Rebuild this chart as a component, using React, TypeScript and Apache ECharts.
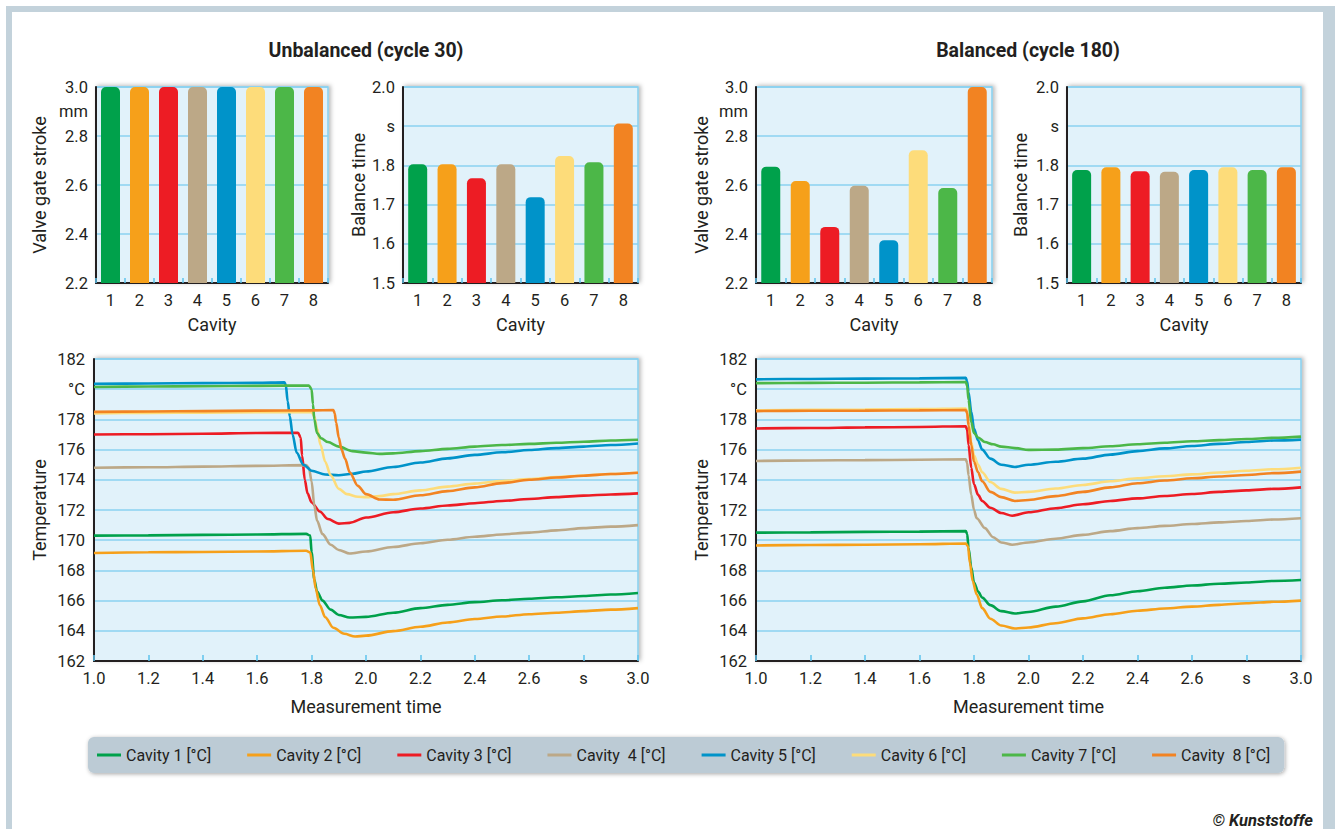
import React, { useEffect, useRef } from 'react';
import * as echarts from 'echarts';

// ---------- categories & labels ----------
const cavities = ['1', '2', '3', '4', '5', '6', '7', '8'];
const cavityColors = ['#00a14b', '#f6a01a', '#ed1c24', '#bca887', '#0093c9', '#fddc7a', '#4cb748', '#f28322'];
const legendNames = ['Cavity 1 [°C]', 'Cavity 2 [°C]', 'Cavity 3 [°C]', 'Cavity  4 [°C]', 'Cavity 5 [°C]', 'Cavity 6 [°C]', 'Cavity 7 [°C]', 'Cavity  8 [°C]'];
const titleUnbalanced = 'Unbalanced (cycle 30)';
const titleBalanced = 'Balanced (cycle 180)';

// ---------- bar values ----------
const unbalancedStroke = [3.0, 3.0, 3.0, 3.0, 3.0, 3.0, 3.0, 3.0];
const unbalancedBalanceTime = [1.803, 1.803, 1.767, 1.803, 1.719, 1.824, 1.808, 1.907];
const balancedStroke = [2.675, 2.616, 2.429, 2.597, 2.375, 2.742, 2.588, 3.0];
const balancedBalanceTime = [1.788, 1.795, 1.785, 1.784, 1.788, 1.795, 1.788, 1.795];

// ---------- temperature curves, unbalanced (cycle 30): [time s, °C] ----------
const ubCavity1 = [[1.0,170.3],[1.2,170.32],[1.4,170.35],[1.6,170.38],[1.78,170.42],[1.795,170.3],[1.8,169.2],[1.81,167.4],[1.82,166.6],[1.84,166.0],[1.87,165.4],[1.9,165.05],[1.94,164.88],[2.0,164.92],[2.1,165.2],[2.2,165.5],[2.3,165.72],[2.4,165.9],[2.5,166.02],[2.6,166.12],[2.7,166.22],[2.8,166.3],[2.9,166.4],[3.0,166.5]];
const ubCavity2 = [[1.0,169.15],[1.2,169.2],[1.4,169.22],[1.6,169.25],[1.78,169.3],[1.795,169.2],[1.805,168.0],[1.815,166.8],[1.83,165.7],[1.85,164.9],[1.88,164.2],[1.92,163.8],[1.96,163.62],[2.0,163.68],[2.1,163.98],[2.2,164.27],[2.3,164.55],[2.4,164.78],[2.5,164.95],[2.6,165.1],[2.7,165.2],[2.8,165.3],[2.9,165.4],[3.0,165.5]];
const ubCavity3 = [[1.0,177.0],[1.2,177.02],[1.4,177.05],[1.6,177.1],[1.75,177.12],[1.76,176.8],[1.765,175.6],[1.775,174.0],[1.785,173.1],[1.8,172.5],[1.83,171.9],[1.86,171.4],[1.9,171.1],[1.94,171.15],[2.0,171.5],[2.1,171.85],[2.2,172.1],[2.3,172.3],[2.4,172.45],[2.5,172.6],[2.6,172.73],[2.7,172.85],[2.8,172.95],[2.9,173.03],[3.0,173.1]];
const ubCavity4 = [[1.0,174.8],[1.2,174.83],[1.4,174.87],[1.6,174.92],[1.78,174.97],[1.79,174.8],[1.8,173.9],[1.81,172.3],[1.82,171.3],[1.84,170.4],[1.87,169.7],[1.9,169.35],[1.94,169.12],[2.0,169.25],[2.1,169.55],[2.2,169.8],[2.3,170.03],[2.4,170.23],[2.5,170.38],[2.6,170.5],[2.7,170.65],[2.8,170.8],[2.9,170.9],[3.0,171.0]];
const ubCavity5 = [[1.0,180.35],[1.2,180.38],[1.4,180.4],[1.6,180.42],[1.7,180.45],[1.705,180.3],[1.712,179.2],[1.72,178.2],[1.73,177.0],[1.745,175.8],[1.77,175.0],[1.8,174.6],[1.85,174.35],[1.9,174.3],[1.95,174.4],[2.0,174.55],[2.1,174.85],[2.2,175.15],[2.3,175.42],[2.4,175.65],[2.5,175.82],[2.6,175.97],[2.7,176.1],[2.8,176.2],[2.9,176.3],[3.0,176.4]];
const ubCavity6 = [[1.0,178.4],[1.2,178.43],[1.4,178.45],[1.6,178.47],[1.8,178.5],[1.81,178.2],[1.82,177.4],[1.833,176.3],[1.85,175.2],[1.87,174.3],[1.9,173.4],[1.93,173.05],[1.97,172.88],[2.0,172.85],[2.05,172.92],[2.1,173.05],[2.2,173.3],[2.3,173.55],[2.4,173.75],[2.5,173.92],[2.6,174.05],[2.7,174.18],[2.8,174.28],[2.9,174.38],[3.0,174.47]];
const ubCavity7 = [[1.0,180.15],[1.2,180.18],[1.4,180.2],[1.6,180.22],[1.79,180.25],[1.8,180.0],[1.805,179.0],[1.81,178.0],[1.82,177.1],[1.835,176.75],[1.86,176.5],[1.9,176.2],[1.95,175.9],[2.0,175.8],[2.05,175.72],[2.1,175.75],[2.2,175.9],[2.3,176.05],[2.4,176.2],[2.5,176.3],[2.6,176.38],[2.7,176.45],[2.8,176.52],[2.9,176.6],[3.0,176.65]];
const ubCavity8 = [[1.0,178.5],[1.2,178.52],[1.4,178.55],[1.6,178.58],[1.8,178.6],[1.88,178.62],[1.885,178.4],[1.89,177.8],[1.9,176.8],[1.91,176.0],[1.923,175.4],[1.94,174.5],[1.97,173.6],[2.0,173.05],[2.05,172.7],[2.1,172.68],[2.2,172.98],[2.3,173.25],[2.4,173.5],[2.5,173.78],[2.6,174.0],[2.7,174.15],[2.8,174.27],[2.9,174.38],[3.0,174.47]];

// ---------- temperature curves, balanced (cycle 180): [time s, °C] ----------
const bCavity1 = [[1.0,170.5],[1.2,170.52],[1.4,170.55],[1.6,170.57],[1.77,170.6],[1.775,170.4],[1.78,169.5],[1.79,168.2],[1.8,167.2],[1.815,166.6],[1.83,166.2],[1.86,165.7],[1.9,165.3],[1.95,165.15],[2.0,165.25],[2.1,165.6],[2.2,165.95],[2.3,166.35],[2.4,166.62],[2.5,166.85],[2.6,167.0],[2.7,167.12],[2.8,167.2],[2.9,167.3],[3.0,167.36]];
const bCavity2 = [[1.0,169.65],[1.2,169.68],[1.4,169.7],[1.6,169.73],[1.77,169.78],[1.778,169.6],[1.785,168.5],[1.795,167.3],[1.81,166.4],[1.83,165.5],[1.86,164.8],[1.9,164.35],[1.95,164.15],[2.0,164.22],[2.1,164.5],[2.2,164.82],[2.3,165.1],[2.4,165.33],[2.5,165.48],[2.6,165.6],[2.7,165.72],[2.8,165.82],[2.9,165.92],[3.0,166.0]];
const bCavity3 = [[1.0,177.4],[1.2,177.43],[1.4,177.47],[1.6,177.5],[1.77,177.55],[1.775,177.3],[1.78,176.3],[1.79,174.8],[1.8,173.7],[1.815,173.0],[1.83,172.6],[1.86,172.15],[1.9,171.8],[1.94,171.62],[2.0,171.85],[2.1,172.12],[2.2,172.38],[2.3,172.6],[2.4,172.77],[2.5,172.93],[2.6,173.06],[2.7,173.2],[2.8,173.3],[2.9,173.4],[3.0,173.5]];
const bCavity4 = [[1.0,175.25],[1.2,175.28],[1.4,175.3],[1.6,175.33],[1.77,175.35],[1.775,175.1],[1.78,174.3],[1.79,173.0],[1.8,172.0],[1.81,171.45],[1.84,170.8],[1.87,170.2],[1.9,169.85],[1.94,169.7],[2.0,169.85],[2.1,170.1],[2.2,170.35],[2.3,170.6],[2.4,170.8],[2.5,170.95],[2.6,171.07],[2.7,171.18],[2.8,171.27],[2.9,171.37],[3.0,171.45]];
const bCavity5 = [[1.0,180.65],[1.2,180.68],[1.4,180.7],[1.6,180.72],[1.77,180.75],[1.775,180.5],[1.78,179.8],[1.79,178.5],[1.8,177.4],[1.815,176.6],[1.83,176.0],[1.86,175.4],[1.9,175.0],[1.95,174.85],[2.0,175.0],[2.1,175.2],[2.2,175.4],[2.3,175.67],[2.4,175.9],[2.5,176.08],[2.6,176.24],[2.7,176.38],[2.8,176.5],[2.9,176.6],[3.0,176.66]];
const bCavity6 = [[1.0,178.6],[1.2,178.63],[1.4,178.65],[1.6,178.68],[1.77,178.72],[1.775,178.5],[1.78,177.8],[1.79,176.5],[1.8,175.6],[1.815,175.0],[1.83,174.5],[1.86,173.85],[1.9,173.4],[1.95,173.15],[2.0,173.2],[2.1,173.42],[2.2,173.66],[2.3,173.9],[2.4,174.1],[2.5,174.24],[2.6,174.36],[2.7,174.48],[2.8,174.6],[2.9,174.7],[3.0,174.8]];
const bCavity7 = [[1.0,180.4],[1.2,180.42],[1.4,180.43],[1.6,180.45],[1.77,180.48],[1.775,180.2],[1.78,179.3],[1.79,177.8],[1.8,177.1],[1.815,176.8],[1.84,176.5],[1.87,176.35],[1.9,176.2],[1.95,176.1],[2.0,175.98],[2.1,176.0],[2.2,176.1],[2.3,176.22],[2.4,176.35],[2.5,176.45],[2.6,176.55],[2.7,176.63],[2.8,176.7],[2.9,176.78],[3.0,176.86]];
const bCavity8 = [[1.0,178.55],[1.2,178.57],[1.4,178.58],[1.6,178.6],[1.77,178.62],[1.775,178.4],[1.78,177.6],[1.79,176.3],[1.8,175.2],[1.815,174.5],[1.83,173.9],[1.86,173.2],[1.9,172.85],[1.95,172.6],[2.0,172.66],[2.1,172.92],[2.2,173.2],[2.3,173.5],[2.4,173.77],[2.5,173.95],[2.6,174.1],[2.7,174.22],[2.8,174.32],[2.9,174.44],[3.0,174.54]];

const ubTemps = [ubCavity1, ubCavity2, ubCavity3, ubCavity4, ubCavity5, ubCavity6, ubCavity7, ubCavity8];
const bTemps = [bCavity1, bCavity2, bCavity3, bCavity4, bCavity5, bCavity6, bCavity7, bCavity8];

// ---------- styling ----------
const FONT = 'Roboto, "Noto Sans", sans-serif';
const INK = '#231f20';
const GRID_LINE = '#8ad2f0';
const TICK = '#5ec3ec';

const gridBox = (left: number, top: number, width: number, height: number) => ({
  left, top, width, height, show: true,
  backgroundColor: '#e1f2fa', borderColor: '#86cfee', borderWidth: 1.5,
  shadowColor: 'rgba(0,0,0,0.28)', shadowBlur: 4, shadowOffsetX: 2, shadowOffsetY: -1,
});

const r1 = (v: number) => Math.round(v * 10) / 10;

const strokeFmt = (v: number) => {
  const r = r1(v);
  if (r === 2.9) return 'mm';
  if (r === 2.3 || r === 2.5 || r === 2.7) return '';
  return r.toFixed(1);
};
const balanceFmt = (v: number) => { const r = r1(v); return r === 1.9 ? 's' : r.toFixed(1); };
const tempFmt = (v: number) => (Math.round(v) === 180 ? '°C' : String(Math.round(v)));
const timeFmt = (v: number) => { const r = r1(v); return r === 2.8 ? 's' : r.toFixed(1); };

const axisLineInk = { show: true, onZero: false, lineStyle: { color: INK, width: 2 } };
const LABEL = { fontSize: 16.5, color: INK, fontFamily: FONT };
const NAME = { fontSize: 18, color: INK, fontFamily: FONT };

const catAxis = (gridIndex: number) => ({
  gridIndex, type: 'category', data: cavities,
  axisLine: axisLineInk,
  axisTick: { show: true, inside: true, length: 5, lineStyle: { color: TICK, width: 1.5 } },
  axisLabel: { ...LABEL, margin: 9 },
  name: 'Cavity', nameLocation: 'middle', nameGap: 32,
  nameTextStyle: NAME,
});

const strokeAxis = (gridIndex: number, nameGap: number) => ({
  gridIndex, type: 'value', min: 2.2, max: 3.0, interval: 0.1,
  axisLine: axisLineInk, axisTick: { show: false },
  axisLabel: { ...LABEL, margin: 8, formatter: strokeFmt },
  splitLine: { show: true, lineStyle: { color: [GRID_LINE, 'rgba(0,0,0,0)'], width: 1.5 } },
  name: 'Valve gate stroke', nameLocation: 'middle', nameGap,
  nameTextStyle: NAME,
});

const balanceAxis = (gridIndex: number, nameGap: number) => ({
  gridIndex, type: 'value', min: 1.5, max: 2.0, interval: 0.1,
  axisLine: axisLineInk, axisTick: { show: false },
  axisLabel: { ...LABEL, margin: 8, formatter: balanceFmt },
  splitLine: { show: true, lineStyle: { color: GRID_LINE, width: 1.5 } },
  name: 'Balance time', nameLocation: 'middle', nameGap,
  nameTextStyle: NAME,
});

const timeAxis = (gridIndex: number) => ({
  gridIndex, type: 'value', min: 1.0, max: 3.0, interval: 0.2,
  axisLine: axisLineInk,
  axisTick: { show: true, inside: true, length: 6, lineStyle: { color: TICK, width: 1.5 } },
  axisLabel: { ...LABEL, margin: 9, formatter: timeFmt },
  splitLine: { show: false },
  name: 'Measurement time', nameLocation: 'middle', nameGap: 36,
  nameTextStyle: NAME,
});

const tempAxis = (gridIndex: number, nameGap: number) => ({
  gridIndex, type: 'value', min: 162, max: 182, interval: 2,
  axisLine: axisLineInk, axisTick: { show: false },
  axisLabel: { ...LABEL, margin: 9, formatter: tempFmt },
  splitLine: { show: true, lineStyle: { color: GRID_LINE, width: 1.5 } },
  name: 'Temperature', nameLocation: 'middle', nameGap,
  nameTextStyle: NAME,
});

const barSeries = (axisIndex: number, values: number[]) => ({
  type: 'bar', xAxisIndex: axisIndex, yAxisIndex: axisIndex, barWidth: 19, silent: true,
  data: values.map((v, i) => ({ value: v, itemStyle: { color: cavityColors[i], borderRadius: [5, 5, 0, 0] } })),
});

const lineSeries = (axisIndex: number, data: number[][], i: number) => ({
  type: 'line', name: legendNames[i], xAxisIndex: axisIndex, yAxisIndex: axisIndex,
  data, showSymbol: false, symbol: 'none', smooth: 0.3, smoothMonotone: 'x', silent: true,
  color: cavityColors[i],
  lineStyle: { width: 2.6, color: cavityColors[i] },
  itemStyle: { color: cavityColors[i] },
});

const buildOption = () => ({
  animation: false,
  textStyle: { fontFamily: FONT, color: INK },
  grid: [
    gridBox(96, 87, 232, 196),
    gridBox(403, 87, 235, 196),
    gridBox(756, 87, 236, 196),
    gridBox(1067, 87, 234, 196),
    gridBox(94, 359, 544, 302),
    gridBox(756, 359, 545, 302),
  ],
  xAxis: [catAxis(0), catAxis(1), catAxis(2), catAxis(3), timeAxis(4), timeAxis(5)],
  yAxis: [strokeAxis(0, 48), balanceAxis(1, 36), strokeAxis(2, 46), balanceAxis(3, 38), tempAxis(4, 46), tempAxis(5, 46)],
  legend: {
    data: legendNames, left: 88, top: 737, orient: 'horizontal', icon: 'rect',
    itemWidth: 24, itemHeight: 3, itemGap: 36, padding: [10, 14, 10, 9],
    backgroundColor: '#bccbd5', borderRadius: 6,
    shadowColor: 'rgba(0,0,0,0.35)', shadowBlur: 4, shadowOffsetX: 1, shadowOffsetY: 1,
    textStyle: { fontSize: 16, color: INK, fontFamily: FONT }, selectedMode: false,
  },
  graphic: [
    { type: 'text', x: 366, y: 50, style: { text: titleUnbalanced, x: 0, y: 0, align: 'center', verticalAlign: 'middle', fontSize: 19.5, fontWeight: 'bold', fontFamily: FONT, fill: INK } },
    { type: 'text', x: 1028, y: 50, style: { text: titleBalanced, x: 0, y: 0, align: 'center', verticalAlign: 'middle', fontSize: 19.5, fontWeight: 'bold', fontFamily: FONT, fill: INK } },
    { type: 'text', x: 1313, y: 820, style: { text: '© Kunststoffe', align: 'right', verticalAlign: 'middle', fontSize: 16.5, fontWeight: 'bold', fontStyle: 'italic', fontFamily: FONT, fill: INK } },
  ],
  series: [
    barSeries(0, unbalancedStroke),
    barSeries(1, unbalancedBalanceTime),
    barSeries(2, balancedStroke),
    barSeries(3, balancedBalanceTime),
    ...ubTemps.map((d, i) => lineSeries(4, d, i)),
    ...bTemps.map((d, i) => lineSeries(5, d, i)),
  ],
});

export default function App() {
  const ref = useRef<HTMLDivElement>(null);
  useEffect(() => {
    if (!ref.current) return;
    const chart = echarts.init(ref.current, null, { renderer: 'svg' });
    chart.setOption(buildOption() as any);
    return () => chart.dispose();
  }, []);
  return (
    <div style={{ position: 'fixed', left: 0, top: 0, width: 1335, height: 829, background: '#ffffff', overflow: 'hidden' }}>
      <div style={{ position: 'absolute', left: 6, top: 6, right: 0, bottom: -20, borderLeft: '6px solid #c3d2db', borderTop: '6px solid #c3d2db', borderRight: '12px solid #c3d2db', boxSizing: 'border-box' }} />
      <div ref={ref} style={{ position: 'absolute', left: 0, top: 0, width: 1335, height: 829 }} />
    </div>
  );
}
